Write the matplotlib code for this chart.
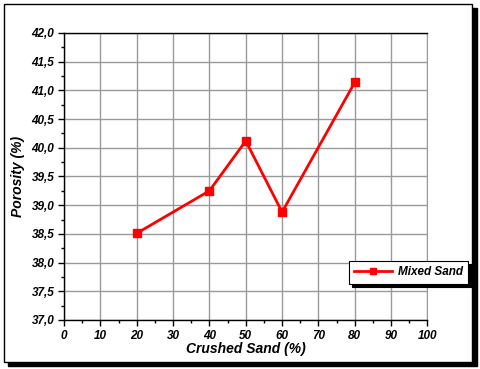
import matplotlib
matplotlib.use('Agg')
import matplotlib.pyplot as plt
from matplotlib.patches import Rectangle
from matplotlib.ticker import MultipleLocator, FuncFormatter

# data
crushed_sand = [20, 40, 50, 60, 80]
porosity = [38.51, 39.25, 40.12, 38.88, 41.14]
series_name = 'Mixed Sand'

plt.rcParams['font.family'] = 'Liberation Sans'
plt.rcParams['font.weight'] = 'bold'
plt.rcParams['font.style'] = 'italic'
plt.rcParams['axes.labelweight'] = 'bold'

fig = plt.figure(figsize=(4.8, 3.69), dpi=100)

# page frame with shadow (Origin style)
fig.patches.append(Rectangle((0.0083 + 0.009, 0.019 - 0.011), 0.976, 0.970,
                             transform=fig.transFigure, facecolor='black',
                             edgecolor='black', zorder=0))
fig.patches.append(Rectangle((0.0083, 0.019), 0.976, 0.970,
                             transform=fig.transFigure, facecolor='white',
                             edgecolor='black', lw=1.0, zorder=1))

ax = fig.add_axes([0.1333, 0.1328, 0.7573, 0.7778])
ax.set_zorder(2)

ax.plot(crushed_sand, porosity, color='red', lw=2, marker='s', ms=5.5,
        label=series_name, zorder=3)

ax.set_xlim(0, 100)
ax.set_ylim(37.0, 42.0)
ax.xaxis.set_major_locator(MultipleLocator(10))
ax.xaxis.set_minor_locator(MultipleLocator(5))
ax.yaxis.set_major_locator(MultipleLocator(0.5))
ax.yaxis.set_minor_locator(MultipleLocator(0.25))
ax.yaxis.set_major_formatter(FuncFormatter(lambda v, p: f"{v:.1f}".replace('.', ',')))

ax.grid(True, which='major', color='#9a9a9a', lw=1.0)
ax.set_axisbelow(True)
ax.spines['right'].set_color('#9a9a9a')
for s in ['left', 'bottom', 'top']:
    ax.spines[s].set_linewidth(1.0)

ax.tick_params(which='major', direction='out', length=4, width=1, labelsize=8.5, pad=3)
ax.tick_params(which='minor', direction='out', length=2.5, width=1)
ax.tick_params(top=False, right=False, which='both')

ax.set_xlabel('Crushed Sand (%)', fontsize=10, labelpad=0)
ax.set_ylabel('Porosity (%)', fontsize=10, labelpad=5)

leg = ax.legend(loc='upper left', bbox_to_anchor=(349 / 480, 1 - 261 / 369),
                bbox_transform=fig.transFigure, fancybox=False,
                edgecolor='black', framealpha=1, fontsize=8.5,
                handlelength=3.2, handletextpad=0.5, borderpad=0.45,
                borderaxespad=0, markerscale=0.8,
                shadow={'color': 'black', 'alpha': 1, 'ox': 2.5, 'oy': -2.5})
leg.get_frame().set_linewidth(0.8)

plt.savefig('out.png', dpi=100)
